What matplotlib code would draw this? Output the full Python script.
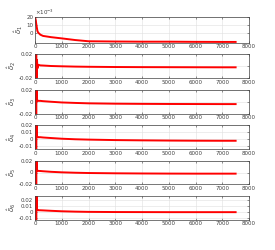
import matplotlib
matplotlib.use('Agg')
import matplotlib.pyplot as plt
from matplotlib.ticker import FuncFormatter

# time steps (sparse)
t = [0, 30, 45, 60, 75, 90, 120, 200, 300, 600, 1000, 1500, 2000, 3000, 4000, 5000, 6000, 7000, 7500]

d1 = [0.020, 0.016, 0.012, 0.009, 0.006, 0.003, 0.001, -0.0015, -0.003, -0.0045, -0.006,
      -0.008, -0.0095, -0.0098, -0.0100, -0.0100, -0.0102, -0.0103, -0.0103]
d2 = [0.0, -0.03, 0.03, -0.03, 0.01, -0.004, 0.002, 0.001, 0.0008, 0.0, -0.0005,
      -0.001, -0.0013, -0.0017, -0.0019, -0.002, -0.0021, -0.0022, -0.0022]
d3 = [0.0, 0.03, -0.03, 0.03, 0.004, 0.002, 0.0015, 0.0015, 0.001, 0.0, -0.0012,
      -0.002, -0.0027, -0.0033, -0.0036, -0.0038, -0.0039, -0.004, -0.004]
d4 = [0.0, 0.03, -0.03, 0.03, 0.004, 0.0025, 0.0022, 0.0022, 0.0018, 0.001, 0.0,
      -0.0008, -0.0013, -0.002, -0.0024, -0.0027, -0.0029, -0.003, -0.003]
d5 = [0.0, 0.03, -0.03, 0.03, 0.005, 0.003, 0.0028, 0.0026, 0.0022, 0.0012, 0.0003,
      -0.0004, -0.0009, -0.0014, -0.0017, -0.0019, -0.002, -0.002, -0.002]
d6 = [0.0, 0.04, -0.03, 0.04, 0.005, 0.003, 0.0028, 0.0027, 0.0025, 0.0018, 0.001,
      0.0004, 0.0, -0.0003, -0.0004, -0.0005, -0.0005, -0.0005, -0.0005]

series = [d1, d2, d3, d4, d5, d6]
labels = [r'$\hat{\delta}_1$', r'$\hat{\delta}_2$', r'$\hat{\delta}_3$',
          r'$\hat{\delta}_4$', r'$\hat{\delta}_5$', r'$\hat{\delta}_6$']
ylims = [(-0.011, 0.02), (-0.02, 0.02), (-0.02, 0.02), (-0.015, 0.02),
         (-0.02, 0.02), (-0.013, 0.027)]
yticks = [[0, 0.01, 0.02], [-0.02, 0, 0.02], [-0.02, 0, 0.02],
          [-0.01, 0, 0.01, 0.02], [-0.02, 0, 0.02], [-0.01, 0, 0.01, 0.02]]
xticks = list(range(0, 8001, 1000))

plt.rcParams['font.family'] = 'DejaVu Sans'
plt.rcParams['font.size'] = 4
axcol = '#404040'

fig = plt.figure(figsize=(2.75, 2.5), dpi=100)

rows = [(17, 42.5), (54, 78), (90, 113.5), (125, 149), (161, 184), (196, 219.5)]
left, right = 35, 249
W, H = 275, 250

for i, (top, bot) in enumerate(rows):
    ax = fig.add_axes([left / W, 1 - bot / H, (right - left) / W, (bot - top) / H])
    ax.plot(t, series[i], color='red', linewidth=1.4, solid_joinstyle='round')
    ax.set_xlim(0, 8000)
    ax.set_ylim(*ylims[i])
    ax.set_xticks(xticks)
    ax.set_yticks(yticks[i])
    if i == 0:
        ax.yaxis.set_major_formatter(FuncFormatter(lambda v, p: '%g' % round(v * 1000)))
        ax.text(0.0, 1.0, r'$\times 10^{-3}$', transform=ax.transAxes,
                fontsize=4, color=axcol, ha='left', va='bottom')
    else:
        ax.yaxis.set_major_formatter(FuncFormatter(lambda v, p: '0' if v == 0 else '%g' % v))
    ax.set_ylabel(labels[i], fontsize=5, color=axcol, labelpad=1)
    ax.grid(True, color='#e0e0e0', linewidth=0.4)
    ax.set_axisbelow(True)
    ax.tick_params(direction='in', length=1.5, width=0.4, colors=axcol,
                   labelsize=4, pad=1.2, top=True, right=True)
    for s in ax.spines.values():
        s.set_color(axcol)
        s.set_linewidth(0.5)

fig.savefig('out.png', dpi=100)
